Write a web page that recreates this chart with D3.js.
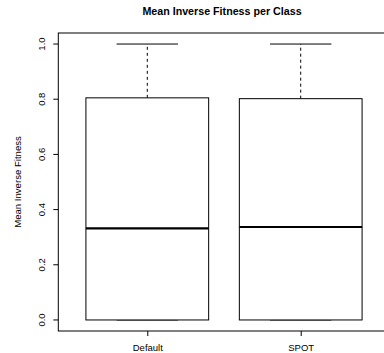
<!DOCTYPE html>
<html><head><meta charset="utf-8">
<script src="https://cdn.jsdelivr.net/npm/d3@7"></script>
<style>body{margin:0;background:#fff}svg{display:block}text{font-family:"Liberation Sans",Arial,sans-serif}</style>
</head><body>
<script>
const categories = ["Default", "SPOT"];
const mins = [0, 0];
const q1s = [0, 0];
const medians = [0.332, 0.337];
const q3s = [0.805, 0.802];
const maxs = [1.0, 1.0];
const yTicks = [0, 0.2, 0.4, 0.6, 0.8, 1.0];

const W = 384, H = 353;
const svg = d3.select("body").append("svg").attr("width", W).attr("height", H);

const x = d3.scaleLinear().domain([0.42, 2.58]).range([58.3, 389.7]);
const y = d3.scaleLinear().domain([-0.04, 1.04]).range([331, 33]);

// frame
svg.append("rect").attr("x", x(0.42)).attr("y", y(1.04)).attr("width", x(2.58) - x(0.42)).attr("height", y(-0.04) - y(1.04))
  .attr("fill", "none").attr("stroke", "#000").attr("stroke-width", 1);

// y axis
const yAxis = svg.append("g").attr("transform", `translate(${x(0.42)},0)`)
  .call(d3.axisLeft(y).tickValues(yTicks).tickFormat(d3.format(".1f")).tickSize(5).tickPadding(4));
yAxis.select(".domain").remove();
yAxis.selectAll(".tick").attr("transform", null);
yAxis.selectAll(".tick line").attr("y1", d => y(d)).attr("y2", d => y(d)).attr("x2", -5).attr("stroke", "#000");
yAxis.selectAll(".tick text").attr("x", -13).attr("y", d => y(d)).attr("dy", "0em")
  .attr("transform", d => `rotate(-90, -13, ${y(d)})`).attr("text-anchor", "middle")
  .attr("font-size", 9.5).attr("fill", "#000");

// x axis
const xAxis = svg.append("g").attr("transform", `translate(0,${y(-0.04)})`)
  .call(d3.axisBottom(x).tickValues([1, 2]).tickFormat((d, i) => categories[i]).tickSize(5).tickPadding(8));
xAxis.select(".domain").remove();
xAxis.selectAll(".tick line").attr("stroke", "#000");
xAxis.selectAll("text").attr("font-size", 9.5).attr("fill", "#000");

// boxes
const data = categories.map((c, i) => ({c, i: i + 1, min: mins[i], q1: q1s[i], med: medians[i], q3: q3s[i], max: maxs[i]}));
const g = svg.append("g");
data.forEach(d => {
  g.append("line").attr("x1", x(d.i)).attr("x2", x(d.i)).attr("y1", y(d.q3)).attr("y2", y(d.max))
    .attr("stroke", "#000").attr("stroke-dasharray", "3,3");
  g.append("line").attr("x1", x(d.i)).attr("x2", x(d.i)).attr("y1", y(d.q1)).attr("y2", y(d.min))
    .attr("stroke", "#000").attr("stroke-dasharray", "3,3");
  g.append("line").attr("x1", x(d.i - 0.2)).attr("x2", x(d.i + 0.2)).attr("y1", y(d.max)).attr("y2", y(d.max)).attr("stroke", "#000");
  g.append("line").attr("x1", x(d.i - 0.2)).attr("x2", x(d.i + 0.2)).attr("y1", y(d.min)).attr("y2", y(d.min)).attr("stroke", "#000");
  g.append("rect").attr("x", x(d.i - 0.4)).attr("y", y(d.q3)).attr("width", x(d.i + 0.4) - x(d.i - 0.4))
    .attr("height", y(d.q1) - y(d.q3)).attr("fill", "#fff").attr("stroke", "#000");
  g.append("line").attr("x1", x(d.i - 0.4)).attr("x2", x(d.i + 0.4)).attr("y1", y(d.med)).attr("y2", y(d.med))
    .attr("stroke", "#000").attr("stroke-width", 2.2);
});

// title
svg.append("text").attr("x", 222).attr("y", 15).attr("text-anchor", "middle").attr("font-size", 10.7)
  .attr("font-weight", "bold").text("Mean Inverse Fitness per Class");
// y label
svg.append("text").attr("transform", `translate(21,${y(0.5)}) rotate(-90)`).attr("text-anchor", "middle")
  .attr("font-size", 9.6).text("Mean Inverse Fitness");
</script>
</body></html>
